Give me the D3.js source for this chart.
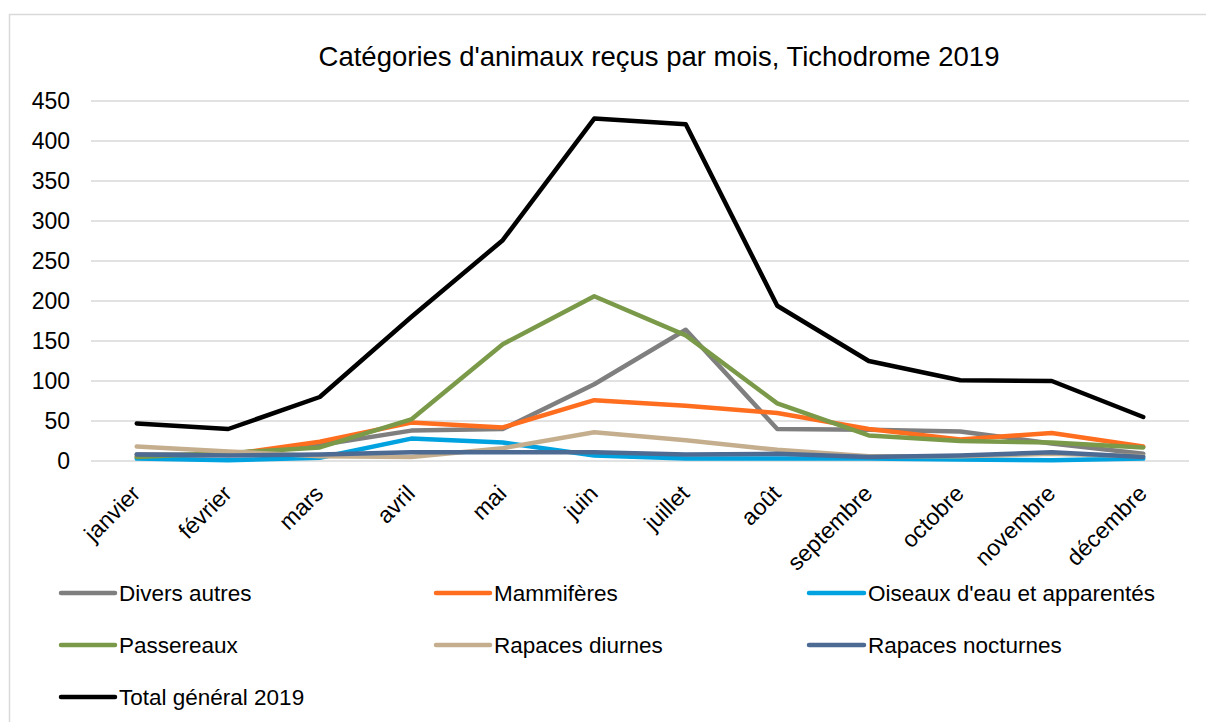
<!DOCTYPE html>
<html lang="fr">
<head>
<meta charset="utf-8">
<title>Tichodrome 2019</title>
<script src="https://cdn.jsdelivr.net/npm/d3@7"></script>
<style>
  body { margin: 0; background: #fff; }
  text { font-family: "Liberation Sans", Arial, sans-serif; fill: #000; }
</style>
</head>
<body>
<div id="chart"></div>
<script>
// data
var months = ["janvier","février","mars","avril","mai","juin","juillet","août","septembre","octobre","novembre","décembre"]
var seriesNames = ["Divers autres","Mammifères","Oiseaux d'eau et apparentés","Passereaux","Rapaces diurnes","Rapaces nocturnes","Total général 2019"]
var seriesColors = ["#7f7f7f","#ff6d1f","#00a2e0","#7a9a4a","#c4ae8e","#4d6a93","#000000"]

var divers     = [8, 8, 20, 38, 40, 96, 164, 40, 39, 37, 22, 9]
var mammiferes = [5, 8, 24, 48, 42, 76, 69, 60, 40, 27, 35, 18]
var oiseaux    = [3, 1, 4, 28, 23, 7, 3, 3, 3, 2, 1, 3]
var passereaux = [5, 10, 17, 52, 146, 206, 157, 72, 32, 25, 23, 17]
var diurnes    = [18, 12, 6, 5, 16, 36, 26, 14, 6, 6, 9, 6]
var nocturnes  = [8, 7, 8, 11, 11, 11, 8, 9, 5, 7, 11, 5]
var total      = [47, 40, 80, 180, 276, 428, 421, 194, 125, 101, 100, 55]

var yTicks = [0, 50, 100, 150, 200, 250, 300, 350, 400, 450]

var allSeries = [divers, mammiferes, oiseaux, passereaux, diurnes, nocturnes, total]

var W = 1206, H = 722
var svg = d3.select("#chart").append("svg")
    .attr("width", W).attr("height", H)

// chart frame
svg.append("rect")
    .attr("x", 9.5).attr("y", 14.5)
    .attr("width", W).attr("height", H)
    .attr("fill", "none").attr("stroke", "#d9d9d9").attr("stroke-width", 1.5)

var x = d3.scaleBand().domain(months).range([91, 1189])
var y = d3.scaleLinear().domain([0, 450]).range([461, 101])

// title
svg.append("text")
    .attr("x", 659).attr("y", 66)
    .attr("text-anchor", "middle")
    .style("font-size", "27.5px")
    .text("Catégories d'animaux reçus par mois, Tichodrome 2019")

// grid
svg.selectAll(".grid").data(yTicks).enter().append("line")
    .attr("x1", 91).attr("x2", 1189)
    .attr("y1", function(d){ return y(d) }).attr("y2", function(d){ return y(d) })
    .attr("stroke", "#d9d9d9").attr("stroke-width", 1.5)

// y axis labels
var yAxis = d3.axisLeft(y).tickValues(yTicks).tickSize(0).tickPadding(0)
var gy = svg.append("g").attr("transform", "translate(70,0)").call(yAxis)
gy.select(".domain").remove()
gy.selectAll("text").style("font-size", "23px").style("font-family", "Liberation Sans, Arial, sans-serif").attr("fill", "#000")

// x axis labels
var xAxis = d3.axisBottom(x).tickSize(0).tickPadding(0)
var gx = svg.append("g").attr("transform", "translate(0,461)").call(xAxis)
gx.select(".domain").remove()
gx.selectAll("text")
    .style("font-size", "23px").style("font-family", "Liberation Sans, Arial, sans-serif").attr("fill", "#000")
    .attr("text-anchor", "end")
    .attr("dy", 0)
    .attr("transform", "translate(5,34) rotate(-45)")

// lines
var line = d3.line()
    .x(function(d, i){ return x(months[i]) + x.bandwidth() / 2 })
    .y(function(d){ return y(d) })

svg.selectAll(".serie").data(allSeries).enter().append("path")
    .attr("d", line)
    .attr("fill", "none")
    .attr("stroke", function(d, i){ return seriesColors[i] })
    .attr("stroke-width", 4.5)
    .attr("stroke-linejoin", "round")
    .attr("stroke-linecap", "round")

// legend
var legCols = [[61, 115, 119], [436, 490, 494], [809, 864, 868]]
var legRows = [593, 645, 697]
var leg = svg.selectAll(".leg").data(seriesNames).enter().append("g")
    .attr("transform", function(d, i){ return "translate(0," + legRows[Math.floor(i / 3)] + ")" })
leg.append("line")
    .attr("x1", function(d, i){ return legCols[i % 3][0] })
    .attr("x2", function(d, i){ return legCols[i % 3][1] })
    .attr("stroke", function(d, i){ return seriesColors[i] })
    .attr("stroke-width", 4.5).attr("stroke-linecap", "round")
leg.append("text")
    .attr("x", function(d, i){ return legCols[i % 3][2] })
    .attr("dy", "0.35em")
    .style("font-size", "22.5px")
    .text(function(d){ return d })
</script>
</body>
</html>
